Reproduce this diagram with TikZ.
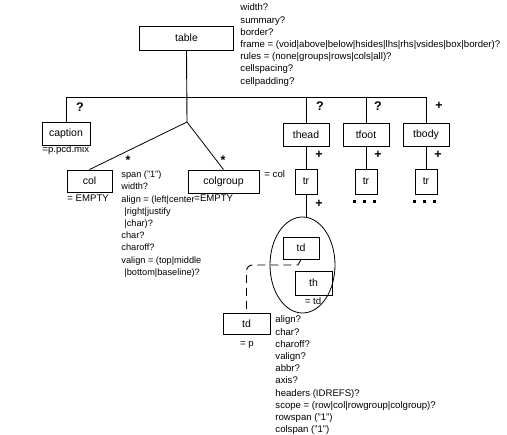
\documentclass[tikz,border=0pt]{standalone}
\usepackage{fontspec}
\setmainfont{Liberation Sans}
\usetikzlibrary{shapes.geometric}
\begin{document}
\begin{tikzpicture}[x=1pt,y=-1pt,
  line width=0.9pt,
  box/.style={draw, inner sep=0pt, font=\fontsize{10.5}{12}\selectfont},
  attr/.style={anchor=north west, inner sep=0pt, align=left, font=\fontsize{9.6}{12.2}\selectfont},
  sub/.style={inner sep=0pt, font=\fontsize{9.6}{12}\selectfont},
  occ/.style={inner sep=0pt, font=\fontsize{12.5}{12}\selectfont\bfseries},
  dashline/.style={dash pattern=on 8pt off 5pt, line width=0.9pt},
  dotsq/.style={fill=black}
]
\useasboundingbox (0,0) rectangle (507,435);
\fill[white] (0,0) rectangle (507,435);

% boxes
\node[box, minimum width=94pt, minimum height=24pt] (table) at (186.5,38) {table};
\node[box, minimum width=48pt, minimum height=23pt] (caption) at (66,133.5) {caption};
\node[box, minimum width=45pt, minimum height=22pt] (col) at (89.5,181) {col};
\node[box, minimum width=71pt, minimum height=23pt] (colgroup) at (223.5,181.5) {colgroup};
\node[box, minimum width=46pt, minimum height=23pt] (thead) at (306,134.5) {thead};
\node[box, minimum width=46pt, minimum height=23pt] (tfoot) at (366,134.5) {tfoot};
\node[box, minimum width=46pt, minimum height=23pt] (tbody) at (426,134.5) {tbody};
\node[box, minimum width=22pt, minimum height=25pt] (tr1) at (306,181.5) {tr};
\node[box, minimum width=22pt, minimum height=25pt] (tr2) at (366,181.5) {tr};
\node[box, minimum width=22pt, minimum height=25pt] (tr3) at (426,181.5) {tr};
\node[draw, ellipse, inner sep=0pt, minimum width=65pt, minimum height=96pt, line width=0.8pt] (cell) at (302.5,265) {};
\node[box, minimum width=36pt, minimum height=22pt] (tdi) at (301,248) {td};
\node[box, minimum width=37pt, minimum height=24pt] (th) at (313.5,283) {th};
\node[box, minimum width=47pt, minimum height=21pt] (tdo) at (246.5,323.5) {td};

% tree connectors
\coordinate (hl) at (67,97);
\coordinate (hr) at (426,97);
\coordinate (junc) at (187,122);
\draw (table.south) -- (junc);
\draw (caption.north) -- (caption.north |- hl) -- (hr) -- (tbody.north);
\draw (thead.north) -- (thead.north |- hl);
\draw (tfoot.north) -- (tfoot.north |- hl);
\draw[line width=0.8pt] (junc) -- (col.north);
\draw[line width=0.8pt] (junc) -- (colgroup.north);
\draw (thead.south) -- (tr1.north);
\draw (tfoot.south) -- (tr2.north);
\draw (tbody.south) -- (tr3.north);
\draw (tr1.south) -- (tr1.south |- cell.north);
\coordinate (d1) at (298,265);
\draw[dashline] (tdi.south) -- (d1) [rounded corners=6pt] -- (d1 -| tdo.north) -- (tdo.north);

% occurrence marks
\node[occ] (qcap) at (80,107) {?};
\node[occ] (qhead) at (320,106) {?};
\node[occ] (qfoot) at (378,106) {?};
\node[occ] (pbody) at (439,106) {+};
\node[occ] (phead) at (319,155) {+};
\node[occ] (pfoot) at (378,155) {+};
\node[occ] (pbody2) at (438,155) {+};
\node[occ] (ptr) at (319,204) {+};
\node[occ] (scol) at (128,160) {*};
\node[occ] (scolg) at (223,160) {*};

% dots
\foreach \x in {353,363,373,413,423,433}
  \fill[dotsq] (\x,200) rectangle ++(3,3);

% sub labels
\node[sub, anchor=west] (capsub) at (42,150) {=p.pcd.mix};
\node[sub, anchor=west] (colsub) at (67,198) {= EMPTY};
\node[sub, anchor=west] (cgsub) at (194,198) {=EMPTY};
\node[sub, anchor=west] (cgeq) at (264,174) {= col};
\node[sub] (thsub) at (313,301) {= td};
\node[sub] (tdsub) at (247,345) {= p};

% attribute lists
\node[attr] (tabattr) at (240,3.5) {width?\\summary?\\border?\\frame = (void|above|below|hsides|lhs|rhs|vsides|box|border)?\\rules = (none|groups|rows|cols|all)?\\cellspacing?\\cellpadding?};
\node[attr, font=\fontsize{9.2}{12.2}\selectfont] (colattr) at (121,170.5) {span ("1")\\width?\\align = (left|center\\\hspace{3pt}|right|justify\\\hspace{3pt}|char)?\\char?\\charoff?\\valign = (top|middle\\\hspace{3pt}|bottom|baseline)?};
\node[attr] (tdattr) at (275,315.5) {align?\\char?\\charoff?\\valign?\\abbr?\\axis?\\headers (IDREFS)?\\scope = (row|col|rowgroup|colgroup)?\\rowspan ("1")\\colspan ("1")};
\end{tikzpicture}
\end{document}
